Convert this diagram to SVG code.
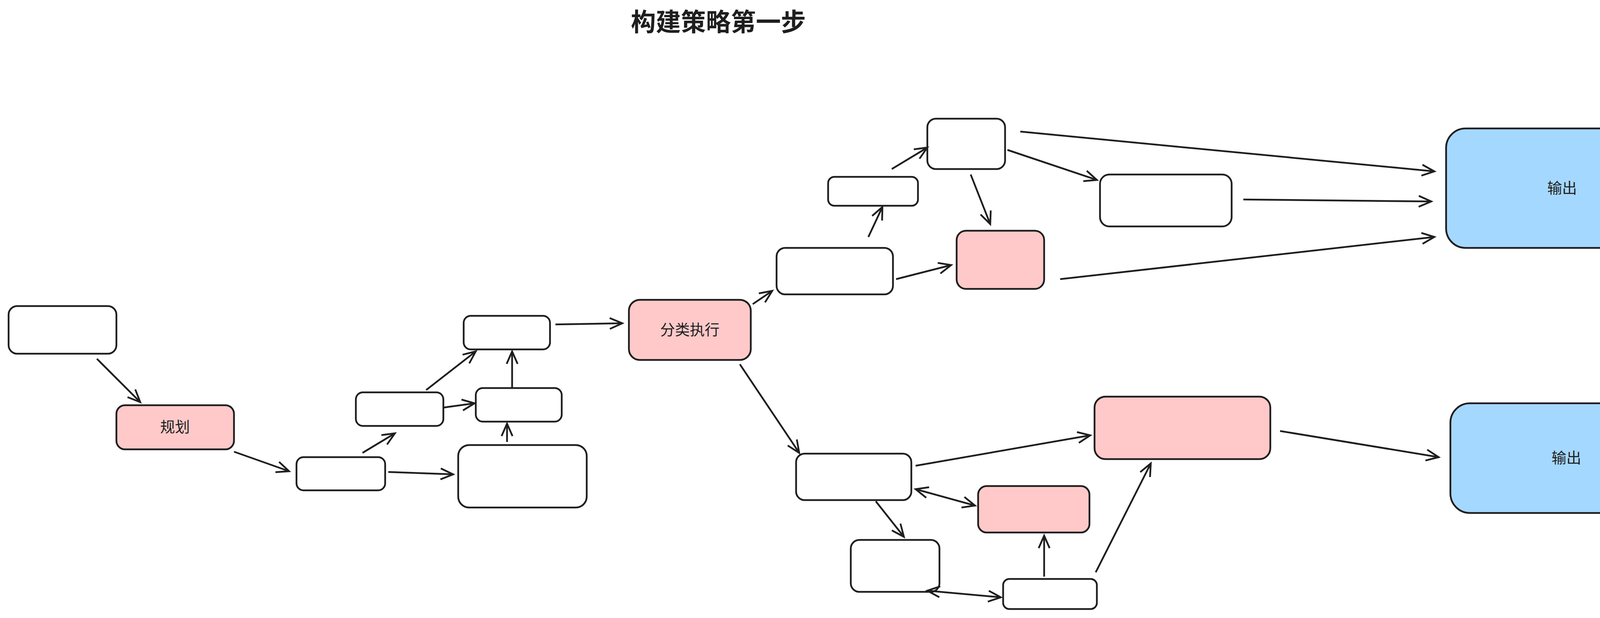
<svg xmlns="http://www.w3.org/2000/svg" width="4329" height="1583" viewBox="0 0 4329 1583">
<style>
.n{fill:#fff;stroke:#1e1e1e;stroke-width:4.5}
.p{fill:#ffc9c9;stroke:#1e1e1e;stroke-width:4.5}
.b{fill:#a5d8ff;stroke:#1e1e1e;stroke-width:4.5}
.t{font-family:"Liberation Sans","Noto Sans CJK SC",sans-serif;font-size:38px;fill:#1e1e1e;text-anchor:middle;dominant-baseline:central}
#edges line{stroke:#1e1e1e;stroke-width:4.5;fill:none;marker-end:url(#a)}
#edges line.d{marker-start:url(#s)}
</style>
<defs>
<marker id="a" markerWidth="12" markerHeight="12" refX="10" refY="6" orient="auto" markerUnits="userSpaceOnUse" viewBox="0 0 12 12" overflow="visible"><path d="M-22,-8 L10,6 L-22,20" transform="translate(0,0)" fill="none" stroke="#1e1e1e" stroke-width="4.5"/></marker>
<marker id="s" markerWidth="12" markerHeight="12" refX="10" refY="6" orient="auto-start-reverse" markerUnits="userSpaceOnUse" viewBox="0 0 12 12" overflow="visible"><path d="M-22,-8 L10,6 L-22,20" fill="none" stroke="#1e1e1e" stroke-width="4.5"/></marker>
</defs>
<rect width="4329" height="1583" fill="#fff"/>
<text x="1839" y="57" class="t" style="font-size:64px;font-weight:bold">构建策略第一步</text>
<g id="A"><rect class="n" x="22" y="784" width="276" height="122" rx="22"/></g>
<g id="plan"><rect class="p" x="298" y="1038" width="301" height="113" rx="22"/><text class="t" x="448" y="1094">规划</text></g>
<g id="B"><rect class="n" x="759" y="1171" width="227" height="85" rx="18"/></g>
<g id="C"><rect class="n" x="911" y="1005" width="224" height="86" rx="18"/></g>
<g id="D"><rect class="n" x="1187" y="809" width="221" height="86" rx="18"/></g>
<g id="E"><rect class="n" x="1218" y="994" width="220" height="86" rx="18"/></g>
<g id="F"><rect class="n" x="1173" y="1140" width="329" height="160" rx="28"/></g>
<g id="classify"><rect class="p" x="1610" y="768" width="312" height="154" rx="28"/><text class="t" x="1766" y="845">分类执行</text></g>
<g id="G"><rect class="n" x="1988" y="635" width="298" height="119" rx="22"/></g>
<g id="H"><rect class="n" x="2120" y="453" width="230" height="74" rx="16"/></g>
<g id="I"><rect class="n" x="2374" y="304" width="199" height="129" rx="22"/></g>
<g id="J"><rect class="p" x="2449" y="591" width="224" height="149" rx="24"/></g>
<g id="K"><rect class="n" x="2816" y="447" width="337" height="133" rx="24"/></g>
<g id="out1"><rect class="b" x="3702" y="329" width="594" height="306" rx="50"/><text class="t" x="3999" y="482">输出</text></g>
<g id="L"><rect class="n" x="2038" y="1162" width="295" height="119" rx="22"/></g>
<g id="M"><rect class="p" x="2802" y="1016" width="450" height="160" rx="28"/></g>
<g id="N"><rect class="p" x="2504" y="1245" width="285" height="119" rx="22"/></g>
<g id="O"><rect class="n" x="2178" y="1383" width="227" height="133" rx="22"/></g>
<g id="P"><rect class="n" x="2568" y="1483" width="240" height="77" rx="16"/></g>
<g id="out2"><rect class="b" x="3713" y="1033" width="594" height="281" rx="50"/><text class="t" x="4010" y="1173">输出</text></g>
<g id="edges">
<line x1="248" y1="919" x2="359" y2="1030"/>
<line x1="599" y1="1157" x2="740" y2="1207"/>
<line x1="928" y1="1160" x2="1011" y2="1110"/>
<line x1="994" y1="1209" x2="1160" y2="1215"/>
<line x1="1091" y1="999" x2="1218" y2="900"/>
<line x1="1135" y1="1044" x2="1215" y2="1033"/>
<line x1="1298" y1="1132" x2="1298" y2="1085"/>
<line x1="1311" y1="994" x2="1311" y2="900"/>
<line x1="1422" y1="831" x2="1593" y2="828"/>
<line x1="1927" y1="779" x2="1977" y2="745"/>
<line x1="1894" y1="933" x2="2046" y2="1160"/>
<line x1="2223" y1="607" x2="2259" y2="530"/>
<line x1="2283" y1="433" x2="2374" y2="378"/>
<line x1="2294" y1="715" x2="2435" y2="679"/>
<line x1="2485" y1="447" x2="2535" y2="574"/>
<line x1="2579" y1="384" x2="2808" y2="461"/>
<line x1="2612" y1="337" x2="3672" y2="439"/>
<line x1="3183" y1="511" x2="3664" y2="516"/>
<line x1="2714" y1="715" x2="3672" y2="607"/>
<line x1="2344" y1="1193" x2="2791" y2="1115"/>
<line class="d" x1="2344" y1="1253" x2="2496" y2="1295"/>
<line x1="2242" y1="1284" x2="2314" y2="1375"/>
<line class="d" x1="2374" y1="1513" x2="2562" y2="1530"/>
<line x1="2673" y1="1477" x2="2673" y2="1372"/>
<line x1="2805" y1="1466" x2="2946" y2="1187"/>
<line x1="3277" y1="1104" x2="3683" y2="1171"/>
</g>
</svg>
